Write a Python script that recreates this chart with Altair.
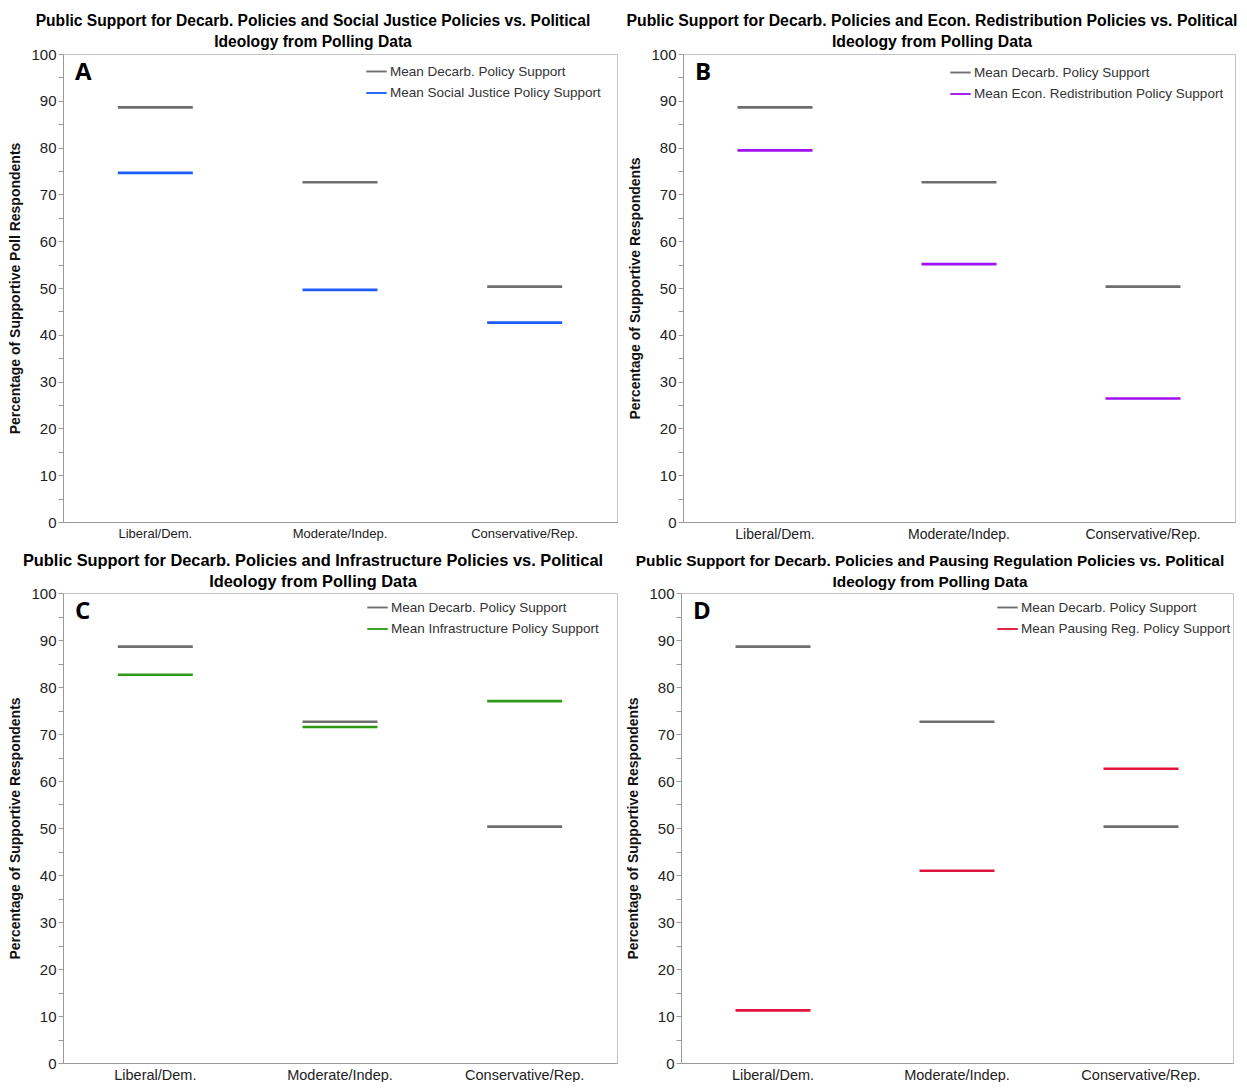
import altair as alt
import pandas as pd

categories = ["Liberal/Dem.", "Moderate/Indep.", "Conservative/Rep."]
decarb_name = "Mean Decarb. Policy Support"
decarb_vals = [88.6, 72.6, 50.3]

social_justice_name = "Mean Social Justice Policy Support"
social_justice_vals = [74.6, 49.6, 42.6]

econ_name = "Mean Econ. Redistribution Policy Support"
econ_vals = [79.4, 55.1, 26.4]

infra_name = "Mean Infrastructure Policy Support"
infra_vals = [82.6, 71.5, 77.0]

pause_name = "Mean Pausing Reg. Policy Support"
pause_vals = [11.2, 40.9, 62.6]

titles = {
    "A": ["Public Support for Decarb. Policies and Social Justice Policies vs. Political", "Ideology from Polling Data"],
    "B": ["Public Support for Decarb. Policies and Econ. Redistribution Policies vs. Political", "Ideology from Polling Data"],
    "C": ["Public Support for Decarb. Policies and Infrastructure Policies vs. Political", "Ideology from Polling Data"],
    "D": ["Public Support for Decarb. Policies and Pausing Regulation Policies vs. Political", "Ideology from Polling Data"],
}

FONT = "Liberation Sans Narrow, Arial Narrow, Liberation Sans, sans-serif"
GRAY = "#6e6e6e"
BAR_SYMBOL = "M-1,-0.09L1,-0.09L1,0.09L-1,0.09Z"


def panel(letter, other_name, other_vals, other_color, ytitle, w, h,
          legend_x, legend_y, title_size, xlabel_size):
    df = pd.DataFrame({
        "category": categories * 2,
        "series": [decarb_name] * 3 + [other_name] * 3,
        "value": decarb_vals + other_vals,
    })
    ticks = alt.Chart(df).mark_tick(size=75, thickness=2.6, opacity=1).encode(
        x=alt.X("category:N", sort=categories,
                scale=alt.Scale(paddingInner=0, paddingOuter=0),
                axis=alt.Axis(title=None, labelAngle=0, ticks=False, labelFontSize=xlabel_size,
                              labelPadding=5, labelColor="#222", labelFont=FONT)),
        y=alt.Y("value:Q", scale=alt.Scale(domain=[0, 100], nice=False),
                axis=alt.Axis(title=ytitle, values=list(range(0, 101, 5)),
                              labelExpr="datum.value % 10 == 0 ? datum.label : ''",
                              grid=False, labelFontSize=15, labelColor="#222", labelFont=FONT,
                              titleFont=FONT, titleFontSize=14, titleFontWeight="bold",
                              titleColor="#111", tickSize=5, titlePadding=8)),
        color=alt.Color("series:N",
                        scale=alt.Scale(domain=[decarb_name, other_name], range=[GRAY, other_color]),
                        legend=alt.Legend(title=None, orient="none", legendX=legend_x, legendY=legend_y,
                                          padding=0, symbolType=BAR_SYMBOL, symbolSize=420,
                                          symbolStrokeWidth=0, labelFontSize=13.5, labelFont=FONT,
                                          labelColor="#333", rowPadding=4.5, labelOffset=3,
                                          labelLimit=400)),
    )
    txt = alt.Chart(pd.DataFrame({"letter": [letter]})).mark_text(
        font="Open Sans", fontWeight="bold", fontSize=24, align="left", baseline="middle", color="black"
    ).encode(text="letter:N", x=alt.value(12), y=alt.value(19))
    return alt.layer(ticks, txt).properties(
        width=w, height=h,
        title=alt.Title(titles[letter], font=FONT, fontSize=title_size, fontWeight="bold", color="black",
                        anchor="middle", frame="bounds", offset=-4, lineHeight=21),
    )


A = panel("A", social_justice_name, social_justice_vals, "#1f5cff",
          "Percentage of Supportive Poll Respondents", 554, 468, 303, 7, 15.6, 13)
B = panel("B", econ_name, econ_vals, "#a010f0",
          "Percentage of Supportive Respondents", 552, 468, 267, 8, 15.8, 14)
C = panel("C", infra_name, infra_vals, "#2e9a17",
          "Percentage of Supportive Respondents", 554, 470, 304, 4, 16.4, 14.5)
D = panel("D", pause_name, pause_vals, "#e0143c",
          "Percentage of Supportive Respondents", 552, 470, 316, 4, 15.4, 14.5)

top = alt.hconcat(A, B, spacing=8).resolve_scale(color="independent")
bottom = alt.hconcat(C, D, spacing=8).resolve_scale(color="independent")
chart = alt.vconcat(top, bottom, spacing=10).resolve_scale(color="independent").configure_view(
    stroke="#c4c4c4"
).configure_axis(domainColor="#9a9a9a", tickColor="#9a9a9a").properties(
    background="white", padding={"left": 0, "top": 4, "right": 0, "bottom": 0}
)

chart.save("out.html", embed_options={"renderer": "svg", "actions": False})
